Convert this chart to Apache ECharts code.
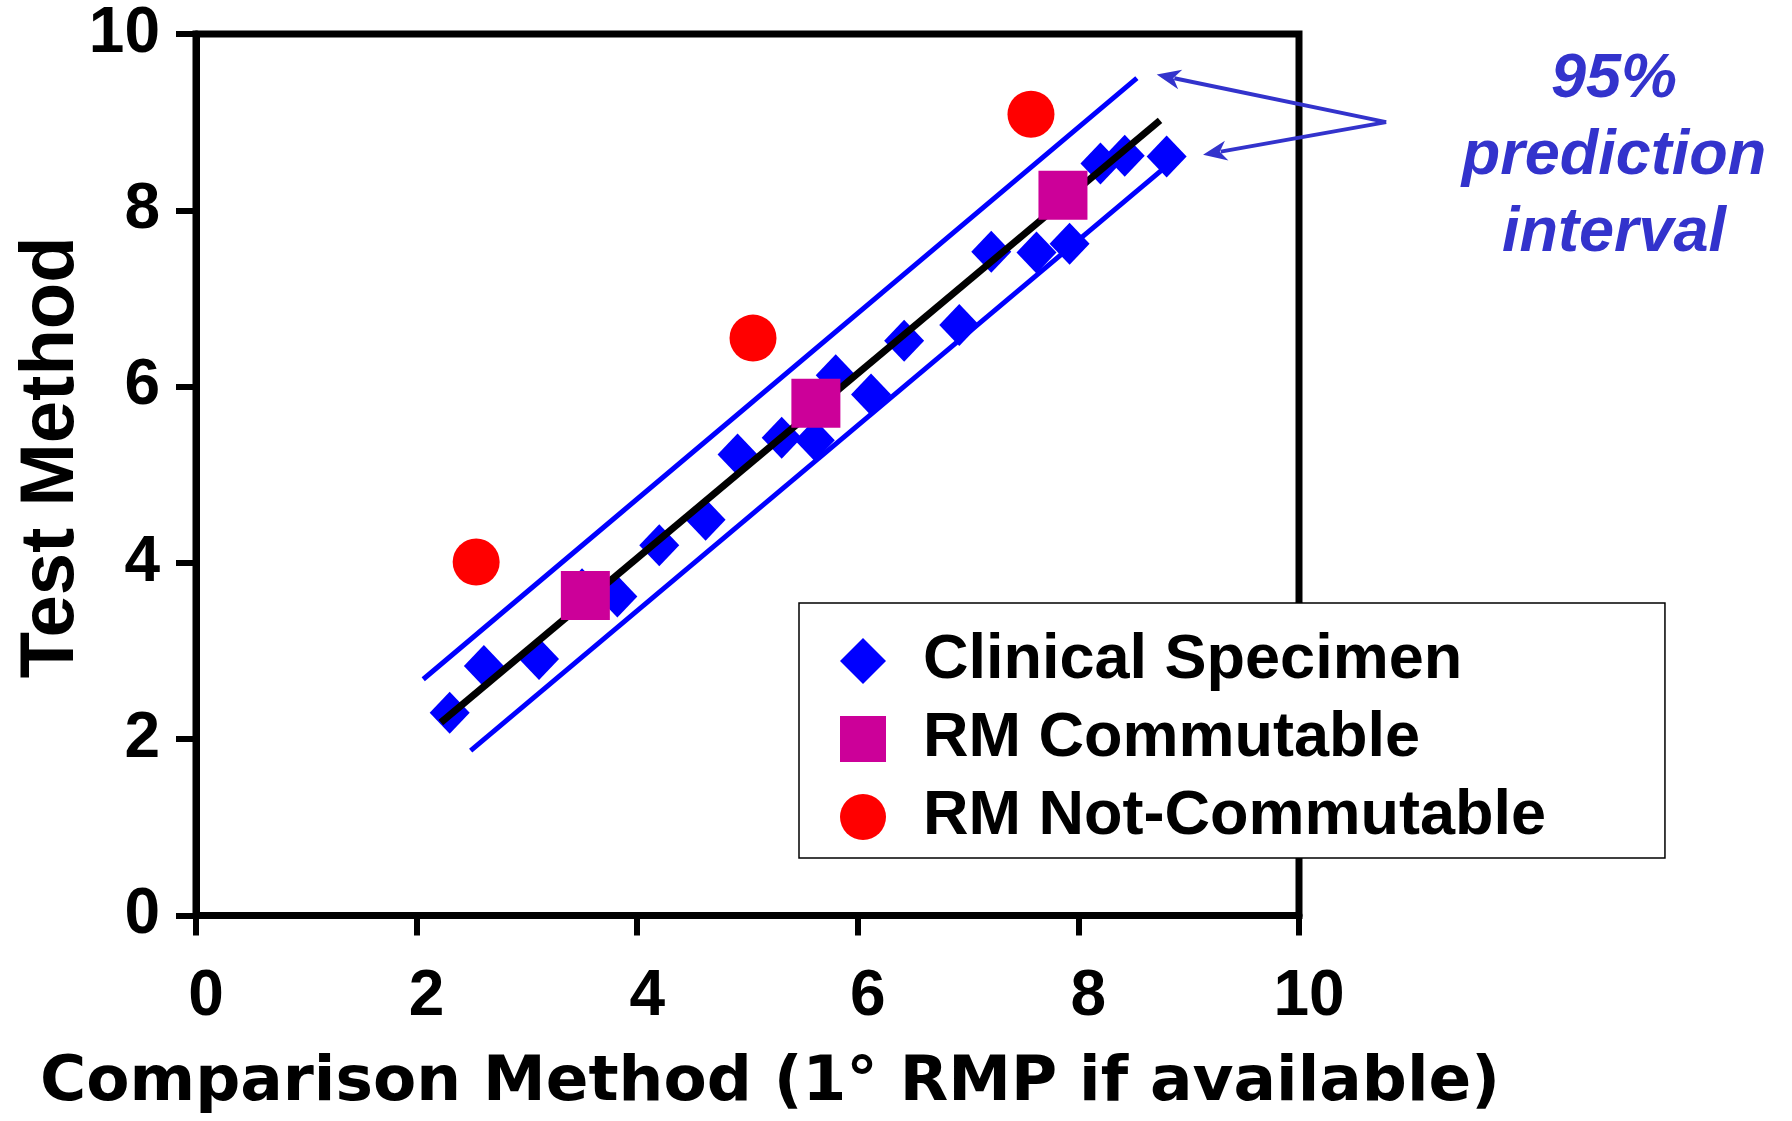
<!DOCTYPE html>
<html>
<head>
<meta charset="utf-8">
<script src="https://cdn.jsdelivr.net/npm/echarts@6/dist/echarts.min.js"></script>
<style>
  html, body { margin: 0; padding: 0; background: #fff; }
  #chart { width: 1792px; height: 1121px; }
</style>
</head>
<body>
<div id="chart"></div>
<script>
// values
const clinicalX = [2.3, 2.61, 3.11, 3.5, 3.82, 4.2, 4.62, 4.91, 5.31, 5.61, 5.8, 6.12, 6.42, 6.92, 7.21, 7.62, 7.92, 8.2, 8.42, 8.8]
const clinicalY = [2.3, 2.83, 2.91, 3.7, 3.62, 4.2, 4.49, 5.23, 5.42, 5.39, 6.13, 5.91, 6.52, 6.7, 7.53, 7.52, 7.62, 8.53, 8.62, 8.61]
const commutableX = [3.53, 5.62, 7.86]
const commutableY = [3.63, 5.81, 8.17]
const notCommutableX = [2.54, 5.05, 7.57]
const notCommutableY = [4.01, 6.55, 9.09]

// regression line and 95% prediction interval (end points)
const fitX = [2.22, 8.74]
const fitY = [2.19, 9.02]
const upperX = [2.06, 8.53]
const upperY = [2.68, 9.5]
const lowerX = [2.49, 8.75]
const lowerY = [1.87, 8.45]

const ticks = [0, 2, 4, 6, 8, 10]
const legendNames = ['Clinical Specimen', 'RM Commutable', 'RM Not-Commutable']
const noteLines = ['95%', 'prediction', 'interval']

// annotation arrows, in data units
const arrowTail = [10.79, 9.0]
const arrowTips = [[8.71, 9.54], [9.13, 8.63]]

const pairs = (xs, ys) => xs.map((x, i) => [x, ys[i]])

const font = '"Liberation Sans", Arial, sans-serif'
const black = '#000'
const noteColor = '#3333CC'

const chart = echarts.init(document.getElementById('chart'), null, { renderer: 'canvas' })

const axisBase = {
  type: 'value',
  min: ticks[0],
  max: ticks[ticks.length - 1],
  interval: 2,
  nameLocation: 'middle',
  nameMoveOverlap: false,
  axisLine: { show: true, onZero: false, lineStyle: { color: black, width: 7 } },
  axisTick: { show: true, length: 20, lineStyle: { color: black, width: 6 } },
  splitLine: { show: false }
}

const option = {
  animation: false,
  backgroundColor: '#fff',
  grid: {
    left: 196, right: 493, top: 34, bottom: 205.5,
    containLabel: false, outerBoundsMode: 'none',
    show: true, borderColor: black, borderWidth: 7
  },
  xAxis: Object.assign({}, axisBase, {
    name: 'Comparison Method (1° RMP if available)',
    nameGap: 137,
    nameTextStyle: { fontFamily: '"DejaVu Sans", sans-serif', fontWeight: 'bold', fontSize: 63, color: black, padding: [0, 0, 0, 45] },
    axisLabel: { fontFamily: font, fontWeight: 'bold', fontSize: 64, lineHeight: 64, color: black, margin: 50, padding: [0, 0, 0, 20] }
  }),
  yAxis: Object.assign({}, axisBase, {
    name: 'Test Method',
    nameGap: 106,
    nameTextStyle: { fontFamily: font, fontWeight: 'bold', fontSize: 76, color: black, padding: [0, 0, 0, 35] },
    axisLabel: { fontFamily: font, fontWeight: 'bold', fontSize: 64, color: black, margin: 36 }
  }),
  legend: {
    orient: 'vertical',
    left: 799, top: 603,
    data: legendNames,
    selectedMode: false,
    itemWidth: 46, itemHeight: 46,
    itemGap: 14,
    padding: [26, 119, 9, 41],
    backgroundColor: '#fff',
    borderColor: black, borderWidth: 1.5,
    textStyle: { fontFamily: font, fontWeight: 'bold', fontSize: 63, lineHeight: 64, color: black, padding: [0, 0, 0, 32] },
    z: 10
  },
  series: [
    {
      type: 'line', data: pairs(upperX, upperY), symbol: 'none', silent: true, z: 1,
      lineStyle: { color: '#0000FF', width: 5 }
    },
    {
      type: 'line', data: pairs(lowerX, lowerY), symbol: 'none', silent: true, z: 1,
      lineStyle: { color: '#0000FF', width: 5 }
    },
    {
      name: legendNames[0], type: 'scatter', data: pairs(clinicalX, clinicalY), z: 2,
      symbol: 'diamond', symbolSize: [40, 42], itemStyle: { color: '#0000FF', opacity: 1 }
    },
    {
      type: 'line', data: pairs(fitX, fitY), symbol: 'none', silent: true, z: 3,
      lineStyle: { color: black, width: 7 }
    },
    {
      name: legendNames[1], type: 'scatter', data: pairs(commutableX, commutableY), z: 4,
      symbol: 'rect', symbolSize: 49, itemStyle: { color: '#CC0099', opacity: 1 }
    },
    {
      name: legendNames[2], type: 'scatter', data: pairs(notCommutableX, notCommutableY), z: 5,
      symbol: 'circle', symbolSize: 47, itemStyle: { color: '#FF0000', opacity: 1 }
    }
  ]
}

chart.setOption(option)

// arrows + note text, placed from data units
const arrowGraphics = () => {
  const tail = chart.convertToPixel({ gridIndex: 0 }, arrowTail)
  const out = []
  arrowTips.forEach(tip => {
    const p = chart.convertToPixel({ gridIndex: 0 }, tip)
    const dx = p[0] - tail[0]
    const dy = p[1] - tail[1]
    const len = Math.sqrt(dx * dx + dy * dy)
    const ux = dx / len
    const uy = dy / len
    const headLen = 24
    const headW = 10
    const bx = p[0] - ux * headLen
    const by = p[1] - uy * headLen
    out.push({
      type: 'polyline', z: 20,
      shape: { points: [tail, [bx + ux * 6, by + uy * 6]] },
      style: { stroke: noteColor, lineWidth: 4, fill: null }
    })
    out.push({
      type: 'polygon', z: 20,
      shape: { points: [p, [bx - uy * headW, by + ux * headW], [bx + ux * 7, by + uy * 7], [bx + uy * headW, by - ux * headW]] },
      style: { fill: noteColor }
    })
  })
  return out
}

chart.setOption({
  graphic: [
    {
      type: 'text', x: 1614, y: 157, z: 20,
      style: {
        text: noteLines.join('\n'),
        align: 'center', verticalAlign: 'middle',
        fontFamily: font, fontWeight: 'bold', fontStyle: 'italic', fontSize: 63, lineHeight: 77,
        fill: noteColor
      }
    }
  ].concat(arrowGraphics())
})
</script>
</body>
</html>
